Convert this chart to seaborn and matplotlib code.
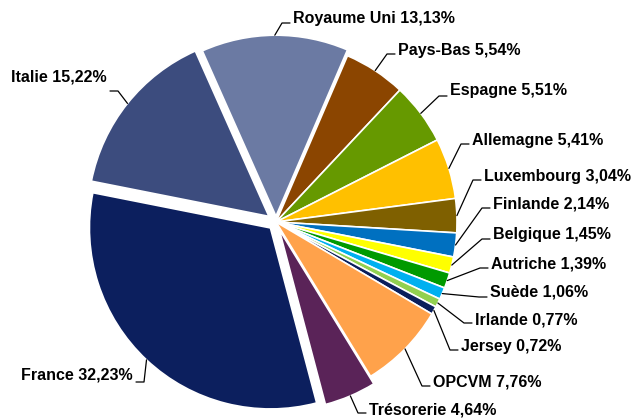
import numpy as np
import matplotlib
matplotlib.use("Agg")
import matplotlib.pyplot as plt
import seaborn as sns

sns.set_theme(style="white")
plt.rcParams['font.family'] = ['Liberation Sans', 'DejaVu Sans']

# repartition par pays (%)
pays = ['Royaume Uni', 'Pays-Bas', 'Espagne', 'Allemagne', 'Luxembourg', 'Finlande',
        'Belgique', 'Autriche', 'Suède', 'Irlande', 'Jersey', 'OPCVM', 'Trésorerie',
        'France', 'Italie']
parts = [13.13, 5.54, 5.51, 5.41, 3.04, 2.14, 1.45, 1.39, 1.06, 0.77, 0.72, 7.76, 4.64,
         32.23, 15.22]

couleurs = ['#6B7AA3', '#8B4500', '#669900', '#FFC000', '#7F6000', '#0070C0', '#FFFF00',
            '#009A00', '#00B0F0', '#92D050', '#0A1F5C', '#FFA24B', '#5A2358', '#0C1F5E',
            '#3C4C7E']
eclate = [0.032, 0, 0, 0, 0, 0, 0, 0, 0, 0, 0, 0, 0.045, 0.045, 0.05]

# position des etiquettes en pixels (x texte, y texte, y trait, alignement)
etiq_pos = [(293, 18, 23, 'left'), (398, 51, 54, 'left'), (450, 91, 96, 'left'),
            (472, 141, 144, 'left'), (484, 176, 180, 'left'), (493, 204, 208, 'left'),
            (493, 235, 239, 'left'), (491, 264, 268, 'left'), (490, 292, 297, 'left'),
            (475, 320, 323, 'left'), (461, 346, 350, 'left'), (433, 382, 386, 'left'),
            (369, 410, 413, 'left'), (133, 375, 382, 'right'), (107, 77, 91, 'right')]

W, H = 633, 420
R = 181
fig = plt.figure(figsize=(6.33, 4.2), dpi=100)
ax = fig.add_axes([0, 0, 1, 1])

# explode de matplotlib est en unites de donnees
wedges, _ = ax.pie(parts, colors=couleurs, explode=[e * R for e in eclate],
                   startangle=114, counterclock=False, center=(276, H - 222), radius=R,
                   wedgeprops=dict(edgecolor='white', linewidth=1.2))

for w, nom, v, (tx, ty, ly, ha) in zip(wedges, pays, parts, etiq_pos):
    th = np.deg2rad((w.theta1 + w.theta2) / 2)
    cx, cy = w.center
    px = cx + w.r * np.cos(th)
    py = cy + w.r * np.sin(th)
    if ha == 'left':
        xs = [px, tx - 11, tx - 3]
    else:
        xs = [px, tx + 11, tx + 3]
    ax.plot(xs, [py, H - ly, H - ly], color='black', lw=0.9)
    txt = f"{nom} {v:.2f}%".replace('.', ',')
    ax.text(tx, H - ty, txt, ha=ha, va='center', fontsize=11.5,
            fontweight='bold', color='black')

ax.set_xlim(0, W)
ax.set_ylim(0, H)
ax.set_aspect('equal')
ax.axis('off')

fig.savefig('out.png', dpi=100)
